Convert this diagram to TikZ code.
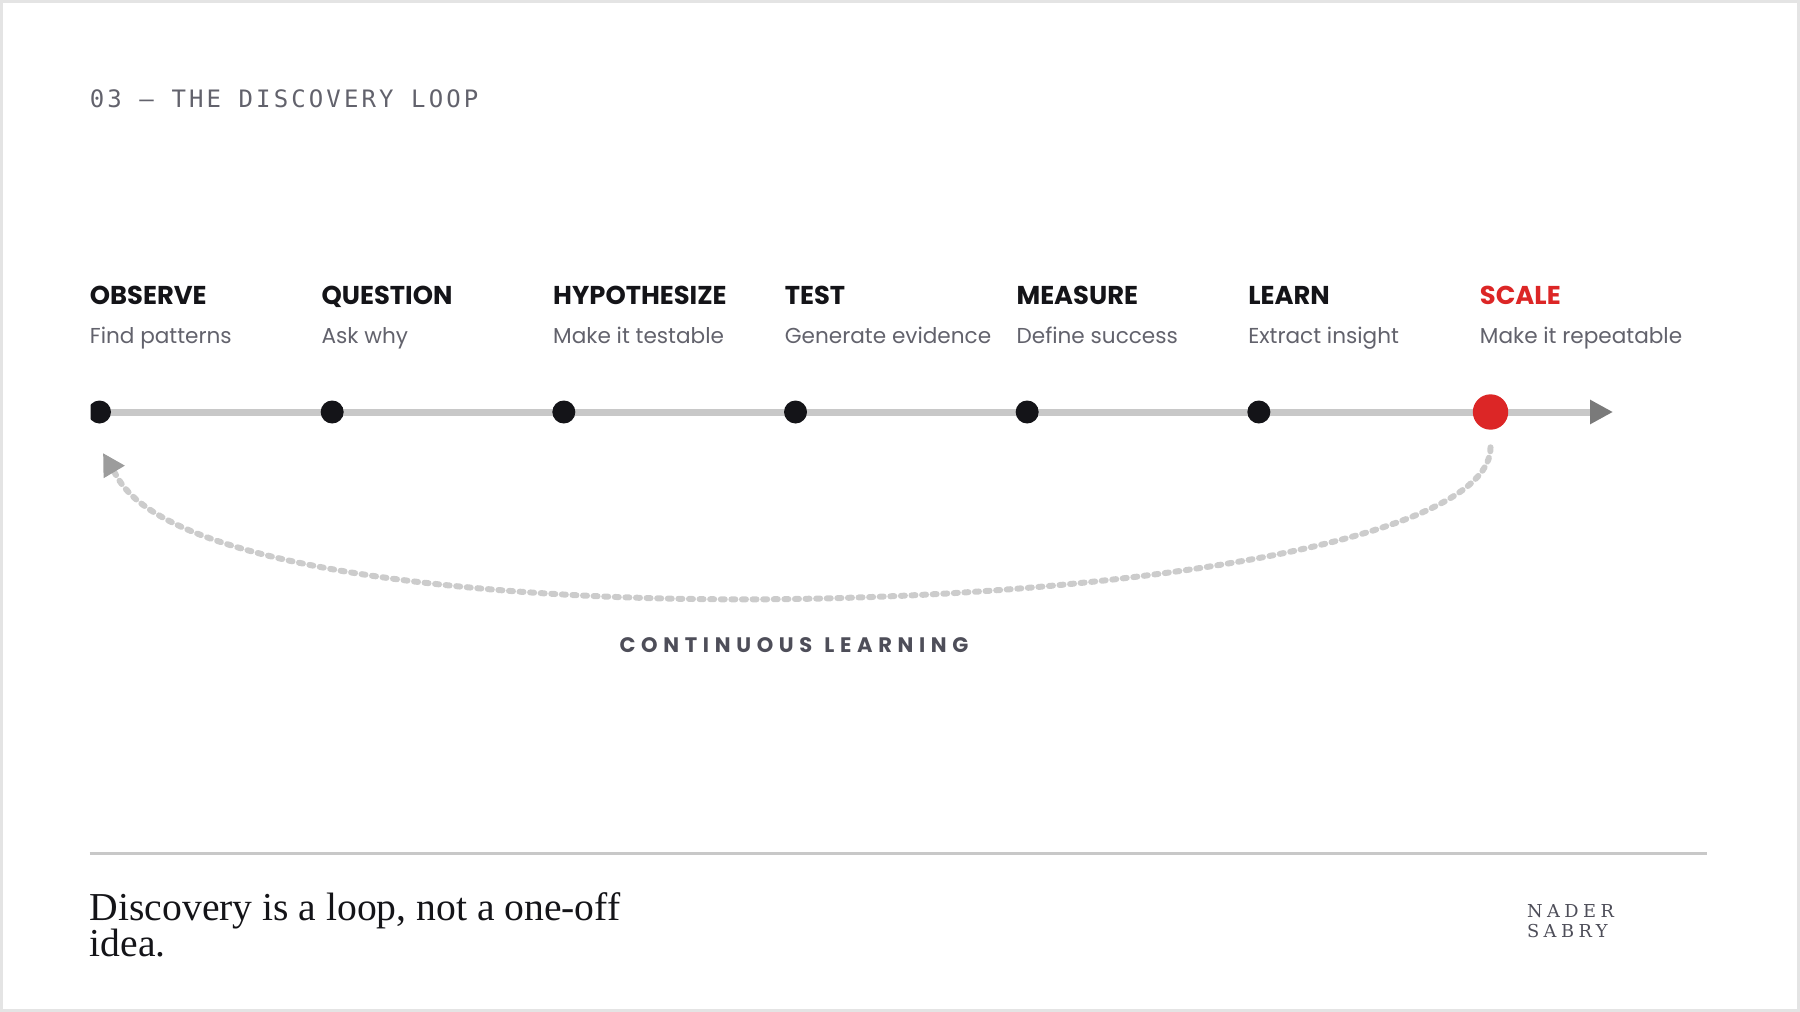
\documentclass[tikz,border=0pt]{standalone}
\usepackage{fontspec}
\usetikzlibrary{arrows.meta,positioning}
\newfontfamily\labelfont{Poppins}
\newfontfamily\spacedfont[LetterSpace=27]{Poppins}
\newfontfamily\titlefont[LetterSpace=13]{DejaVu Sans Mono}
\newfontfamily\quotefont{Liberation Serif}
\newfontfamily\markfont[LetterSpace=25]{DejaVu Serif}
\definecolor{ink}{HTML}{141418}
\definecolor{note}{HTML}{62626C}
\definecolor{rail}{HTML}{C8C8C8}
\definecolor{railtip}{HTML}{7A7A7A}
\definecolor{loopgray}{HTML}{CCCCCC}
\definecolor{looptip}{HTML}{9C9C9C}
\definecolor{hot}{HTML}{DC2626}
\definecolor{frame}{HTML}{E4E4E4}
\definecolor{caption}{HTML}{4E4E59}
\tikzset{
stagename/.style={anchor=base west,inner sep=0,text=ink,font=\labelfont\bfseries\fontsize{12.9}{15}\selectfont},
stagenote/.style={anchor=base west,inner sep=0,text=note,font=\labelfont\fontsize{10.8}{13}\selectfont},
stagedot/.style={circle,fill=ink,inner sep=0,minimum size=11.5pt},
railline/.style={rail,line width=3.5pt,-{Triangle[length=11.5pt,width=11.5pt,color=railtip]}},
loopline/.style={loopgray,line width=3pt,line cap=round,dash pattern=on 2pt off 3.3pt,-{Triangle[length=11pt,width=11.5pt,color=looptip]}}
}
\begin{document}
\begin{tikzpicture}[x=0.5pt,y=-0.5pt]
\pgfmathsetmacro{\stepx}{231.67}
\useasboundingbox (0,0) rectangle (1800,1012);
\draw[frame,line width=1.5pt] (1.5,1.5) rectangle (1798.5,1010.5);
\node[anchor=base west,inner sep=0,text=note,font=\titlefont\fontsize{12}{14}\selectfont] (title) at (89.5,107) {03 — THE DISCOVERY LOOP};
\node[stagename] (n1) at (89.5,304) {OBSERVE};
\node[stagename] (n2) at ({89.5+\stepx},304) {QUESTION};
\node[stagename] (n3) at ({89.5+2*\stepx},304) {HYPOTHESIZE};
\node[stagename] (n4) at ({89.5+3*\stepx},304) {TEST};
\node[stagename] (n5) at ({89.5+4*\stepx},304) {MEASURE};
\node[stagename] (n6) at ({89.5+5*\stepx},304) {LEARN};
\node[stagename,text=hot] (n7) at ({89.5+6*\stepx},304) {SCALE};
\node[stagenote] (s1) at (89.5,343) {Find patterns};
\node[stagenote] (s2) at ({89.5+\stepx},343) {Ask why};
\node[stagenote] (s3) at ({89.5+2*\stepx},343) {Make it testable};
\node[stagenote] (s4) at ({89.5+3*\stepx},343) {Generate evidence};
\node[stagenote] (s5) at ({89.5+4*\stepx},343) {Define success};
\node[stagenote] (s6) at ({89.5+5*\stepx},343) {Extract insight};
\node[stagenote] (s7) at ({89.5+6*\stepx},343) {Make it repeatable};
\coordinate (p1) at (99.5,412);
\coordinate (p2) at ({100.5+\stepx},412);
\coordinate (p3) at ({100.5+2*\stepx},412);
\coordinate (p4) at ({100.5+3*\stepx},412);
\coordinate (p5) at ({100.5+4*\stepx},412);
\coordinate (p6) at ({100.5+5*\stepx},412);
\coordinate (p7) at ({100.5+6*\stepx},412);
\coordinate (tip) at (1613,412);
\draw[railline] (p1) -- (tip);
\begin{scope}
\clip (90.5,380) rectangle (200,440);
\node[stagedot] (d1) at (p1) {};
\end{scope}
\node[stagedot] (d2) at (p2) {};
\node[stagedot] (d3) at (p3) {};
\node[stagedot] (d4) at (p4) {};
\node[stagedot] (d5) at (p5) {};
\node[stagedot] (d6) at (p6) {};
\node[stagedot,fill=hot,minimum size=17.7pt] (d7) at (p7) {};
\coordinate (bend) at (119,480);
\coordinate (back) at (103,453);
\draw[loopline] ([yshift=-8.6pt]d7.south) .. controls (1490,620) and (235,665) .. (bend) -- (back);
\node[anchor=base,inner sep=0,text=caption,font=\spacedfont\bfseries\fontsize{10.5}{12}\selectfont] (cap) at (794,652) {CONTINUOUS \hspace{1pt}LEARNING};
\coordinate (r1) at (89.5,853.7);
\coordinate (r2) at (1707,853.7);
\draw[rail,line width=1.5pt] (r1) -- (r2);
\node[anchor=base west,inner sep=0,align=left,text=ink,font=\quotefont\fontsize{19.8}{18.35}\selectfont] (quote) at (89.5,956.7) {Discovery is a loop, not a one-off\\idea.};
\node[anchor=base west,inner sep=0,align=left,text=caption,font=\markfont\fontsize{8.9}{9.75}\selectfont] (mark) at (1526.7,937.3) {NADER\\SABRY};
\end{tikzpicture}
\end{document}
